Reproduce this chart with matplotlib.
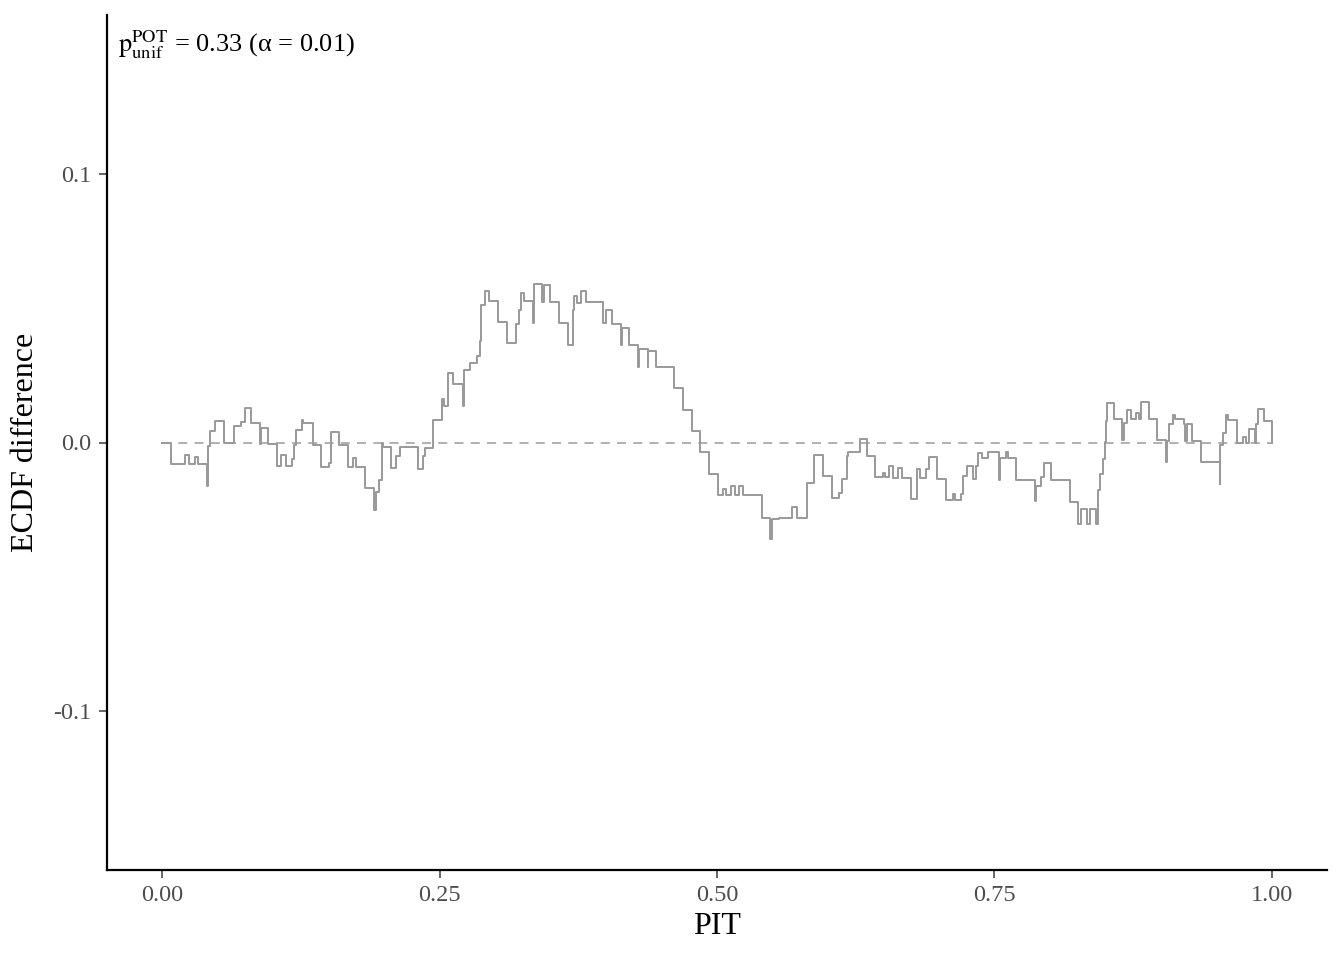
import matplotlib
matplotlib.use("Agg")
import matplotlib.pyplot as plt

# PIT breakpoints and ECDF difference level starting at each breakpoint
pit = [0.0, 0.008, 0.020, 0.024, 0.029, 0.032, 0.040, 0.0415, 0.0432, 0.0471,
       0.0559, 0.0642, 0.0712, 0.0741, 0.0799, 0.0877, 0.0892, 0.0955, 0.1033, 0.1072,
       0.1117, 0.1168, 0.1189, 0.1205, 0.1259, 0.1270, 0.1354, 0.1432, 0.1498, 0.1523,
       0.1595, 0.1673, 0.1718, 0.1748, 0.1829, 0.1910, 0.1925, 0.1949, 0.1979, 0.1985,
       0.2060, 0.2105, 0.2138, 0.2304, 0.2349, 0.2369, 0.2436, 0.2517, 0.2538, 0.2577,
       0.2616, 0.2706, 0.2720, 0.2775, 0.2835, 0.2859, 0.2874, 0.2904, 0.2940, 0.3021,
       0.3105, 0.3189, 0.3213, 0.3231, 0.3261, 0.3345, 0.3351, 0.3421, 0.3436, 0.3495,
       0.3577, 0.3655, 0.3700, 0.3715, 0.3736, 0.3775, 0.3817, 0.3970, 0.3997, 0.4051,
       0.4135, 0.4141, 0.4210, 0.4291, 0.4300, 0.4375, 0.4381, 0.4450, 0.4613, 0.4691,
       0.4772, 0.4847, 0.4928, 0.5006, 0.5057, 0.5078, 0.5123, 0.5162, 0.5201, 0.5237,
       0.5403, 0.5477, 0.5492, 0.5561, 0.5673, 0.5718, 0.5813, 0.5874, 0.5958, 0.6033,
       0.6102, 0.6123, 0.6168, 0.6183, 0.6288, 0.6348, 0.6429, 0.6493, 0.6514, 0.6550,
       0.6589, 0.6634, 0.6670, 0.6748, 0.6800, 0.6829, 0.6880, 0.6910, 0.6988, 0.7069,
       0.7129, 0.7150, 0.7204, 0.7219, 0.7258, 0.7309, 0.7333, 0.7357, 0.7387, 0.7444,
       0.7543, 0.7550, 0.7604, 0.7625, 0.7700, 0.7865, 0.7880, 0.7919, 0.7949, 0.8015,
       0.8180, 0.8255, 0.8285, 0.8336, 0.8360, 0.8414, 0.8435, 0.8456, 0.8480, 0.8495,
       0.8510, 0.8519, 0.8579, 0.8655, 0.8667, 0.8700, 0.8736, 0.8781, 0.8802, 0.8826,
       0.8895, 0.8970, 0.9051, 0.9057, 0.9072, 0.9111, 0.9132, 0.9207, 0.9216, 0.9237,
       0.9285, 0.9366, 0.9532, 0.9538, 0.9561, 0.9586, 0.9606, 0.9688, 0.9742, 0.9766,
       0.9796, 0.9847, 0.9862, 0.9877, 0.9928, 1.0]
ecdf_diff = [0.0, -0.0081, -0.0045, -0.0081, -0.0055, -0.0081, -0.0160, -0.0014, 0.0042, 0.0079,
             0.0, 0.0063, 0.0075, 0.0128, 0.0073, -0.0007, 0.0055, -0.0007, -0.0088, -0.0045,
             -0.0088, -0.0061, -0.0011, 0.0048, 0.0083, 0.0071, -0.0010, -0.0090, -0.0076, 0.0038,
             -0.0011, -0.0092, -0.0058, -0.0092, -0.0171, -0.0252, -0.0183, -0.0141, 0.0, -0.0016,
             -0.0094, -0.0051, -0.0016, -0.0098, -0.0051, -0.0020, 0.0082, 0.0162, 0.0134, 0.0257,
             0.0216, 0.0134, 0.0271, 0.0296, 0.0323, 0.0377, 0.0513, 0.0562, 0.0528, 0.0449,
             0.0370, 0.0439, 0.0494, 0.0557, 0.0525, 0.0445, 0.0591, 0.0523, 0.0585, 0.0523,
             0.0445, 0.0364, 0.0494, 0.0546, 0.0519, 0.0565, 0.0523, 0.0445, 0.0494, 0.0441,
             0.0361, 0.0426, 0.0361, 0.0281, 0.0348, 0.0281, 0.0342, 0.0280, 0.0201, 0.0120,
             0.0042, -0.0036, -0.0119, -0.0197, -0.0172, -0.0197, -0.0160, -0.0197, -0.0160, -0.0197,
             -0.0280, -0.0358, -0.0284, -0.0280, -0.0239, -0.0280, -0.0150, -0.0047, -0.0125, -0.0206,
             -0.0187, -0.0134, -0.0051, -0.0036, 0.0014, -0.0051, -0.0129, -0.0113, -0.0129, -0.0088,
             -0.0131, -0.0094, -0.0131, -0.0209, -0.0098, -0.0132, -0.0098, -0.0055, -0.0134, -0.0212,
             -0.0193, -0.0212, -0.0193, -0.0125, -0.0088, -0.0136, -0.0087, -0.0038, -0.0057, -0.0036,
             -0.0138, -0.0057, -0.0036, -0.0057, -0.0138, -0.0218, -0.0162, -0.0128, -0.0076, -0.0140,
             -0.0222, -0.0302, -0.0246, -0.0302, -0.0246, -0.0302, -0.0175, -0.0119, -0.0063, 0.0002,
             0.0079, 0.0148, 0.0088, 0.0009, 0.0073, 0.0120, 0.0088, 0.0108, 0.0088, 0.0151,
             0.0088, 0.0009, -0.0073, 0.0005, 0.0067, 0.0104, 0.0086, 0.0070, 0.0005, 0.0070,
             0.0005, -0.0073, -0.0154, -0.0011, 0.0036, 0.0104, 0.0082, 0.0, 0.0020, 0.0,
             0.0051, 0.0, 0.0067, 0.0123, 0.0079, 0.0]

x_ticks = [0.0, 0.25, 0.5, 0.75, 1.0]
x_tick_labels = ["0.00", "0.25", "0.50", "0.75", "1.00"]
y_ticks = [-0.1, 0.0, 0.1]
y_tick_labels = ["-0.1", "0.0", "0.1"]

plt.rcParams['font.family'] = ['Liberation Serif', 'DejaVu Serif']
plt.rcParams['mathtext.fontset'] = 'stix'

fig = plt.figure(figsize=(13.44, 9.6), dpi=100)
ax = fig.add_axes([107 / 1344, 90 / 960, 1220 / 1344, 855 / 960])

ax.plot([0, 1], [0, 0], color='#aaaaaa', lw=1.3, linestyle=(0, (5, 4)))
ax.step(pit, ecdf_diff, where='post', color='#999999', lw=1.4)

ax.set_xlim(-0.05, 1.05)
ax.set_ylim(-0.159, 0.159)
ax.set_xticks(x_ticks)
ax.set_xticklabels(x_tick_labels)
ax.set_yticks(y_ticks)
ax.set_yticklabels(y_tick_labels)
ax.tick_params(labelsize=17.5, colors='#4d4d4d', length=6, width=1.2, pad=5)

for side in ['top', 'right']:
    ax.spines[side].set_visible(False)
for side in ['left', 'bottom']:
    ax.spines[side].set_linewidth(1.6)
    ax.spines[side].set_color('black')

ax.set_xlabel('PIT', fontsize=23, labelpad=4)
ax.set_ylabel('ECDF difference', fontsize=23, labelpad=10)

ax.text(0.009, 0.985, r'$\mathrm{p}_{\mathrm{unif}}^{\mathrm{POT}}$ = 0.33 (α = 0.01)',
        transform=ax.transAxes, fontsize=19, va='top', ha='left')

fig.savefig('out.png', dpi=100)
